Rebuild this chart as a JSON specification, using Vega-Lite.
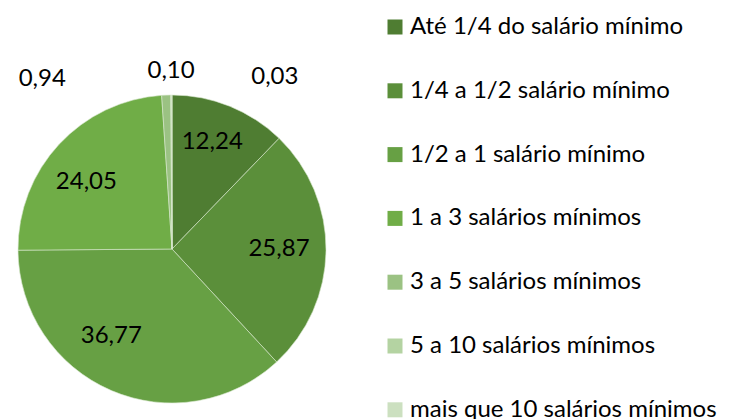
{
  "$schema": "https://vega.github.io/schema/vega-lite/v6.json",
  "autosize": "none",
  "width": 344,
  "height": 340,
  "padding": {"top": 79, "left": 0, "right": 385, "bottom": 0},
  "background": "white",
  "data": {"values": [
    {"k": 1, "faixa": "Até 1/4 do salário mínimo", "v": 12.24, "lbl": "12,24"},
    {"k": 2, "faixa": "1/4 a 1/2 salário mínimo", "v": 25.87, "lbl": "25,87"},
    {"k": 3, "faixa": "1/2 a 1 salário mínimo", "v": 36.77, "lbl": "36,77"},
    {"k": 4, "faixa": "1 a 3 salários mínimos", "v": 24.05, "lbl": "24,05"},
    {"k": 5, "faixa": "3 a 5 salários mínimos", "v": 0.94, "lbl": "0,94"},
    {"k": 6, "faixa": "5 a 10 salários mínimos", "v": 0.10, "lbl": "0,10"},
    {"k": 7, "faixa": "mais que 10 salários mínimos", "v": 0.03, "lbl": "0,03"}
  ]},
  "encoding": {
    "theta": {"field": "v", "type": "quantitative", "stack": true},
    "order": {"field": "k", "type": "quantitative"}
  },
  "layer": [
    {
      "mark": {"type": "arc", "outerRadius": 154, "stroke": "#d8e8cf", "strokeWidth": 0.6},
      "encoding": {
        "color": {
          "field": "faixa", "type": "nominal",
          "sort": ["Até 1/4 do salário mínimo", "1/4 a 1/2 salário mínimo", "1/2 a 1 salário mínimo", "1 a 3 salários mínimos", "3 a 5 salários mínimos", "5 a 10 salários mínimos", "mais que 10 salários mínimos"],
          "scale": {
            "domain": ["Até 1/4 do salário mínimo", "1/4 a 1/2 salário mínimo", "1/2 a 1 salário mínimo", "1 a 3 salários mínimos", "3 a 5 salários mínimos", "5 a 10 salários mínimos", "mais que 10 salários mínimos"],
            "range": ["#4F7D32", "#5B8F3A", "#67A044", "#70AD47", "#9BC283", "#B4D3A2", "#CCE0C0"]
          },
          "legend": {
            "title": null,
            "orient": "none",
            "legendX": 383,
            "legendY": -64,
            "symbolType": "square",
            "symbolSize": 225,
            "symbolStrokeWidth": 0,
            "labelFont": "Lato",
            "labelFontSize": 24,
            "labelColor": "#000000",
            "labelOffset": 3,
            "rowPadding": 39.8,
            "labelLimit": 400
          }
        }
      }
    },
    {
      "mark": {"type": "text", "radius": 110, "dx": -1, "dy": -5, "font": "Lato", "fontSize": 24, "color": "#000000"},
      "encoding": {"text": {"condition": {"test": "datum.k == 1", "field": "lbl"}, "value": ""}}
    },
    {
      "mark": {"type": "text", "radius": 110, "dx": -3, "dy": -1, "font": "Lato", "fontSize": 24, "color": "#000000"},
      "encoding": {"text": {"condition": {"test": "datum.k == 2", "field": "lbl"}, "value": ""}}
    },
    {
      "mark": {"type": "text", "radius": 110, "dx": -17, "dy": -14, "font": "Lato", "fontSize": 24, "color": "#000000"},
      "encoding": {"text": {"condition": {"test": "datum.k == 3", "field": "lbl"}, "value": ""}}
    },
    {
      "mark": {"type": "text", "radius": 110, "dx": -5, "dy": 8, "font": "Lato", "fontSize": 24, "color": "#000000"},
      "encoding": {"text": {"condition": {"test": "datum.k == 4", "field": "lbl"}, "value": ""}}
    },
    {
      "mark": {"type": "text", "radius": 179, "dy": 1, "font": "Lato", "fontSize": 24, "color": "#000000"},
      "encoding": {"text": {"condition": {"test": "datum.k == 6", "field": "lbl"}, "value": ""}}
    },
    {
      "mark": {"type": "text", "radius": 179, "dx": -123, "dy": 9, "font": "Lato", "fontSize": 24, "color": "#000000"},
      "encoding": {"text": {"condition": {"test": "datum.k == 5", "field": "lbl"}, "value": ""}}
    },
    {
      "mark": {"type": "text", "radius": 179, "dx": 103, "dy": 7, "font": "Lato", "fontSize": 24, "color": "#000000"},
      "encoding": {"text": {"condition": {"test": "datum.k == 7", "field": "lbl"}, "value": ""}}
    }
  ]
}
